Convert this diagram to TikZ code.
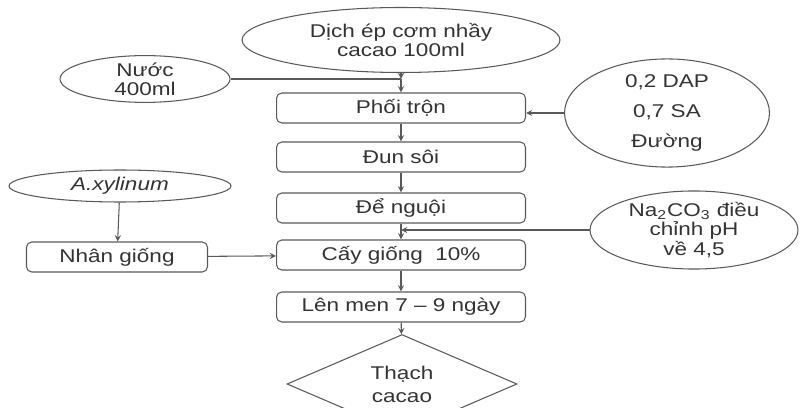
\documentclass[tikz,border=0pt]{standalone}
\usepackage{fontspec}
\setmainfont{Liberation Sans}[FakeStretch=1.22]
\usetikzlibrary{shapes.geometric}
\begin{document}
\begin{tikzpicture}[x=0.02cm, y=-0.02cm, line width=0.6pt,
  every node/.style={text=black!80, font=\fontsize{10.5}{11}\selectfont, align=center, inner sep=0pt},
  stage/.style={draw=black!65, rounded corners=3pt, minimum width=4.98cm, minimum height=0.6cm},
  input/.style={draw=black!65, ellipse},
  flow/.style={draw=black!65, ->, >=stealth}]
  \useasboundingbox (0,0) rectangle (801,408);

  % Draw the inputs on the top
  \node[input, minimum width=6.36cm, minimum height=1.3cm] (juice) at (401,40) {D\d{i}ch ép cơm nhầy\\cacao 100ml};
  \node[input, minimum width=3.4cm, minimum height=0.84cm] (water) at (145,79) {Nước\\400ml};
  \node[input, minimum width=4.1cm, minimum height=1.74cm] (additive) at (667,113) {0,2 DAP\\[6pt]0,7 SA\\[6pt]Đường};

  % Draw the process steps in the middle
  \node[stage] (mixing) at (401,108) {Phối tr\d{ô}n};
  \node[stage] (boiling) at (401,157) {Đun sôi};
  \node[stage] (cooling) at (401,208) {Để ngu\d{ô}i};
  \node[stage] (seeding) at (401,255) {Cấy giống\ \ 10\%};
  \node[stage] (ferment) at (401,307) {Lên men 7 -- 9 ngày};
  \node[draw=black!65, diamond, minimum width=4.6cm, minimum height=1.34cm] (product) at (402,384) {Th\d{a}ch\\[2pt]cacao};

  % Draw the starter culture on the left
  \node[input, minimum width=4.44cm, minimum height=0.64cm] (strain) at (120,186) {\textit{A.xylinum}};
  \node[stage, minimum width=3.62cm] (starter) at (117,257) {Nhân giống};

  % Draw the pH adjustment on the right
  \node[input, minimum width=4.16cm, minimum height=1.2cm] (soda) at (694,230) {Na\textsubscript{2}CO\textsubscript{3} điều\\chỉnh pH\\về 4,5};

  \coordinate (join1) at (401,79);
  \coordinate (join2) at (401,230);

  % Draw the arrows
  \draw[flow] (juice) -- (join1);
  \draw[draw=black!65] (water) -- (join1);
  \draw[flow] (join1) -- (mixing);
  \draw[flow] (additive.west) -- (mixing.east |- additive.west);
  \draw[flow] (mixing) -- (boiling);
  \draw[flow] (boiling) -- (cooling);
  \draw[flow] (cooling) -- (seeding);
  \draw[flow] (soda) -- (join2);
  \draw[flow] (strain) -- (starter);
  \draw[flow] (starter) -- (seeding);
  \draw[flow] (seeding) -- (ferment);
  \draw[flow] (ferment) -- (product);
\end{tikzpicture}
\end{document}
